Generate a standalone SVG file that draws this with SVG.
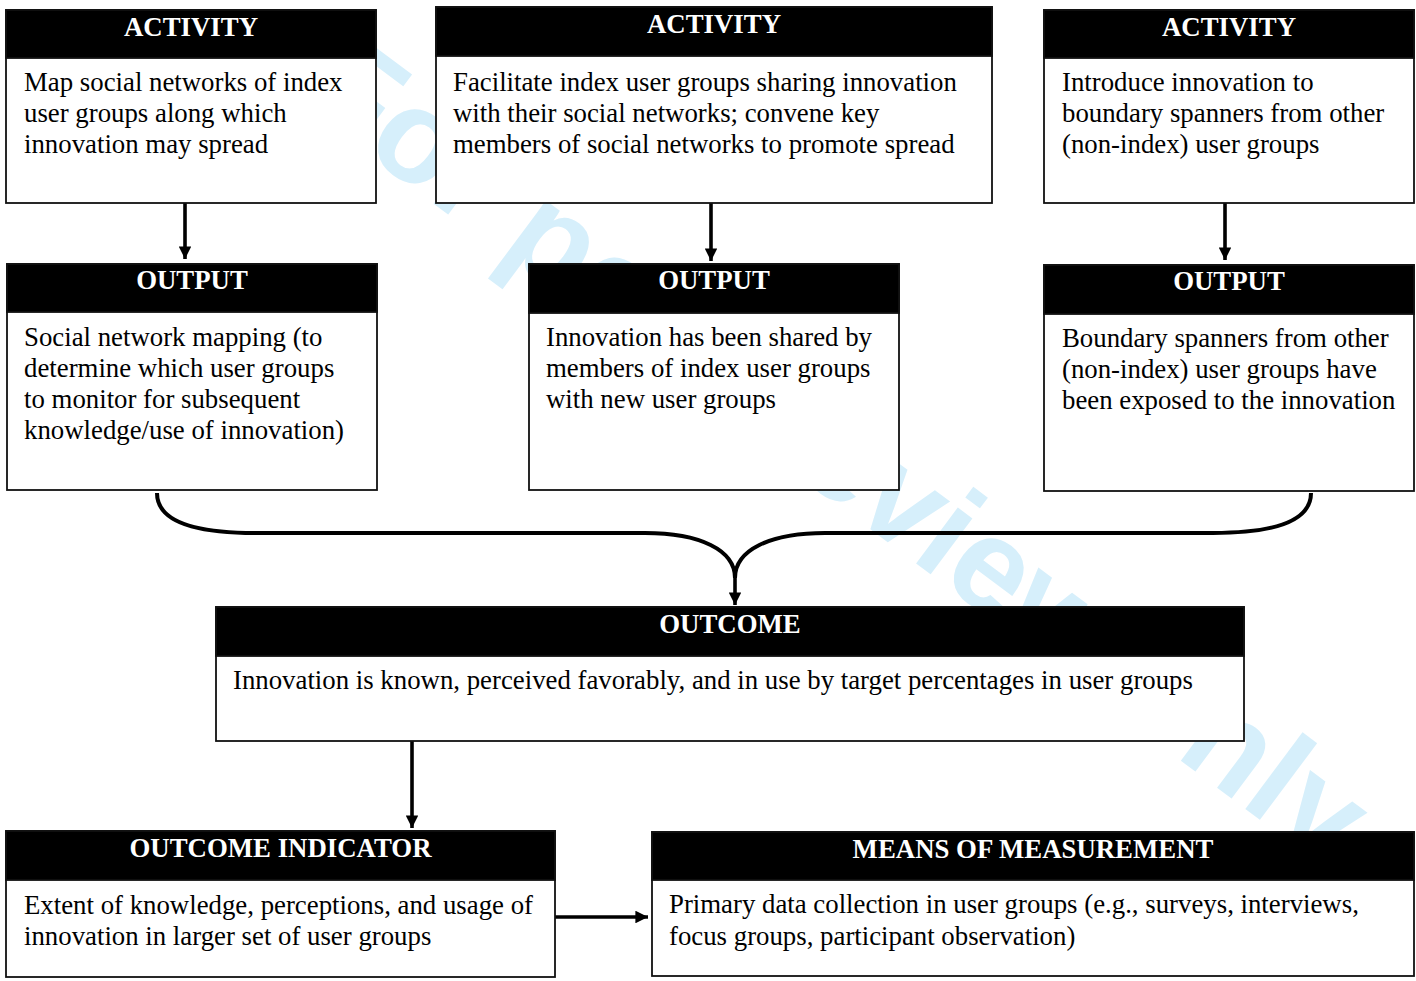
<svg xmlns="http://www.w3.org/2000/svg" width="1416" height="981" viewBox="0 0 1416 981">
  <defs>
    <style>
      .box { fill: #ffffff; stroke: #111111; stroke-width: 1.8; }
      .head { fill: #000000; stroke: #111111; stroke-width: 1.8; }
      .title { font-family: "Liberation Serif", "Times New Roman", serif; font-weight: bold; font-size: 26.8px; fill: #ffffff; text-anchor: middle; }
      .body { font-family: "Liberation Serif", "Times New Roman", serif; font-size: 26.8px; fill: #000000; }
      .wire { fill: none; stroke: #000000; stroke-width: 3.6; }
      .brace { fill: none; stroke: #000000; stroke-width: 4; stroke-linejoin: round; }
      .mark { font-family: "Liberation Sans", Arial, sans-serif; font-weight: bold; font-size: 132px; fill: #d6effb; }
    </style>
    <marker id="arrow" viewBox="0 0 10 10" refX="10" refY="5" markerWidth="3.5" markerHeight="3.5" orient="auto" markerUnits="strokeWidth">
      <path d="M0,0 L10,5 L0,10 Z" fill="#000000"/>
    </marker>
  </defs>

  <rect x="0" y="0" width="1416" height="981" fill="#ffffff"/>

  <!-- background stamp, sits under the white boxes -->
  <text class="mark" x="297" y="102" transform="rotate(36.7 297 102)">For peer review only</text>

  <!-- connectors -->
  <g id="connectors">
    <path class="wire" d="M185,203 L185,259" marker-end="url(#arrow)"/>
    <path class="wire" d="M711,203 L711,261" marker-end="url(#arrow)"/>
    <path class="wire" d="M1225,203 L1225,260" marker-end="url(#arrow)"/>
    <path class="brace" d="M157,493 C157,522 195,533 255,533 L645,533 C700,533 735,550 735,578"/>
    <path class="brace" d="M1311,493 C1311,522 1273,533 1213,533 L825,533 C770,533 735,550 735,578"/>
    <path class="wire" d="M735,576 L735,605" marker-end="url(#arrow)"/>
    <path class="wire" d="M412,741 L412,828" marker-end="url(#arrow)"/>
    <path class="wire" d="M555,917 L648,917" marker-end="url(#arrow)"/>
  </g>

  <g id="activity-1">
    <rect class="box" x="6" y="10" width="370" height="193"/>
    <rect class="head" x="6" y="10" width="370" height="48"/>
    <text class="title" x="191" y="36">ACTIVITY</text>
    <text class="body" x="24" y="91">Map social networks of index</text>
    <text class="body" x="24" y="122">user groups along which</text>
    <text class="body" x="24" y="153">innovation may spread</text>
  </g>

  <g id="activity-2">
    <rect class="box" x="436" y="7" width="556" height="196"/>
    <rect class="head" x="436" y="7" width="556" height="49"/>
    <text class="title" x="714" y="33">ACTIVITY</text>
    <text class="body" x="453" y="91">Facilitate index user groups sharing innovation</text>
    <text class="body" x="453" y="122">with their social networks; convene key</text>
    <text class="body" x="453" y="153">members of social networks to promote spread</text>
  </g>

  <g id="activity-3">
    <rect class="box" x="1044" y="10" width="370" height="193"/>
    <rect class="head" x="1044" y="10" width="370" height="48"/>
    <text class="title" x="1229" y="36">ACTIVITY</text>
    <text class="body" x="1062" y="91">Introduce innovation to</text>
    <text class="body" x="1062" y="122">boundary spanners from other</text>
    <text class="body" x="1062" y="153">(non-index) user groups</text>
  </g>

  <g id="output-1">
    <rect class="box" x="7" y="264" width="370" height="226"/>
    <rect class="head" x="7" y="264" width="370" height="48"/>
    <text class="title" x="192" y="289">OUTPUT</text>
    <text class="body" x="24" y="346">Social network mapping (to</text>
    <text class="body" x="24" y="377">determine which user groups</text>
    <text class="body" x="24" y="408">to monitor for subsequent</text>
    <text class="body" x="24" y="439">knowledge/use of innovation)</text>
  </g>

  <g id="output-2">
    <rect class="box" x="529" y="264" width="370" height="226"/>
    <rect class="head" x="529" y="264" width="370" height="49"/>
    <text class="title" x="714" y="289">OUTPUT</text>
    <text class="body" x="546" y="346">Innovation has been shared by</text>
    <text class="body" x="546" y="377">members of index user groups</text>
    <text class="body" x="546" y="408">with new user groups</text>
  </g>

  <g id="output-3">
    <rect class="box" x="1044" y="265" width="370" height="226"/>
    <rect class="head" x="1044" y="265" width="370" height="49"/>
    <text class="title" x="1229" y="290">OUTPUT</text>
    <text class="body" x="1062" y="347">Boundary spanners from other</text>
    <text class="body" x="1062" y="378">(non-index) user groups have</text>
    <text class="body" x="1062" y="409">been exposed to the innovation</text>
  </g>

  <g id="outcome">
    <rect class="box" x="216" y="607" width="1028" height="134"/>
    <rect class="head" x="216" y="607" width="1028" height="49"/>
    <text class="title" x="730" y="633">OUTCOME</text>
    <text class="body" x="233" y="689">Innovation is known, perceived favorably, and in use by target percentages in user groups</text>
  </g>

  <g id="outcome-indicator">
    <rect class="box" x="6" y="831" width="549" height="146"/>
    <rect class="head" x="6" y="831" width="549" height="49"/>
    <text class="title" x="280.5" y="857">OUTCOME INDICATOR</text>
    <text class="body" x="24" y="914">Extent of knowledge, perceptions, and usage of</text>
    <text class="body" x="24" y="945">innovation in larger set of user groups</text>
  </g>

  <g id="means-of-measurement">
    <rect class="box" x="652" y="832" width="762" height="144"/>
    <rect class="head" x="652" y="832" width="762" height="48"/>
    <text class="title" x="1033" y="858">MEANS OF MEASUREMENT</text>
    <text class="body" x="669" y="913">Primary data collection in user groups (e.g., surveys, interviews,</text>
    <text class="body" x="669" y="945">focus groups, participant observation)</text>
  </g>
</svg>
